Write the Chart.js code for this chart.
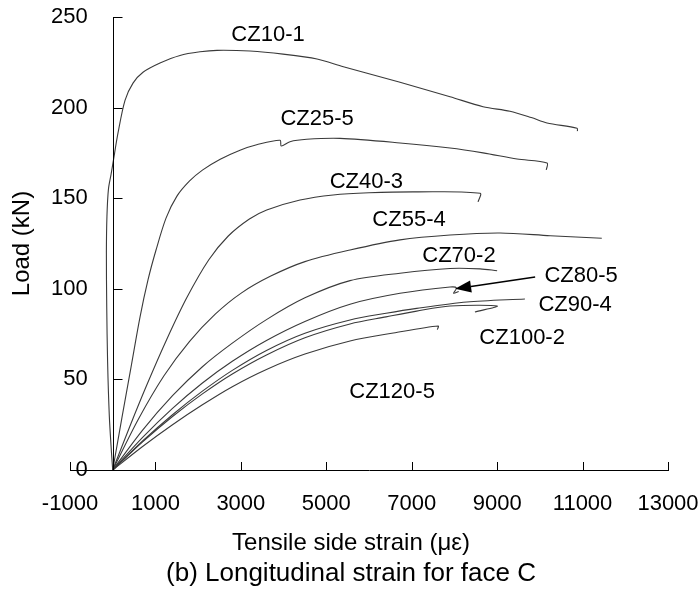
<!DOCTYPE html>
<html>
<head>
<meta charset="utf-8">
<script src="https://cdn.jsdelivr.net/npm/chart.js@4/dist/chart.umd.min.js"></script>
<style>
  html, body { margin: 0; padding: 0; background: #fff; }
</style>
</head>
<body>
<canvas id="myChart" width="700" height="594"></canvas>
<script>
// axis ticks
var xTicks = [-1000, 1000, 3000, 5000, 7000, 9000, 11000, 13000];
var yTicks = [0, 50, 100, 150, 200, 250];

// [strain (µε), load (kN)]
var cz10_1 = [[0,0],[-30,10],[-80,30],[-120,60],[-140,90],[-148,120],[-135,140],[-100,155],[-40,163],[10,170],[124,186],[288,204],[475,213.5],[709,219.5],[1107,224.6],[1575,228.8],[2044,230.8],[2442,231.6],[3214,231.2],[3987,229.5],[4783,226.8],[5400,222.5],[6726,214],[7897,206],[8670,200.5],[9300,198],[9800,194.5],[10168,191.5],[10870,188.6],[10880,187]];
var cz25_5 = [[0,0],[218,29.2],[429,56.8],[639,84.4],[826,104.9],[1014,121.4],[1248,139],[1500,151],[1800,159.5],[2100,165.5],[2517,171.5],[2980,176.5],[3370,179.5],[3917,182],[3945,178.8],[4150,181.2],[4540,182.5],[5320,183],[6726,180.5],[7897,177.7],[8670,175],[9466,171.6],[10168,169.4],[10150,165.6]];
var cz40_3 = [[0,0],[400,24],[800,47],[1264,72],[1733,95],[2250,116],[2700,129],[3200,138.5],[3605,143.5],[4385,149],[5160,151.8],[6000,153],[7117,153.5],[8600,152.7],[8553,148]];
var cz55_4 = [[0,0],[600,28],[1200,52],[1800,71],[2400,86],[3000,97.5],[3700,107],[4500,115],[5556,121.4],[6726,127],[7897,129.7],[9068,130.8],[10240,129.3],[11450,127.9]];
var cz70_2 = [[0,0],[700,22],[1400,41],[2100,57],[2800,70],[3600,83],[4500,95],[5556,104.5],[6726,108.6],[7897,111.2],[8600,111],[9000,110]];
var cz80_5 = [[0,0],[700,18],[1400,34],[2100,48],[2800,60],[3600,71.5],[4500,82],[5556,91.5],[6726,97.5],[7897,101],[8050,100.5],[7980,97.5],[8100,98.5]];
var cz90_4 = [[0,0],[700,16],[1400,30.5],[2100,43.5],[2800,55],[3600,66],[4500,75.5],[5556,82.8],[6400,86.5],[7117,89.2],[8290,92.7],[9650,94.4]];
var cz100_2 = [[0,0],[700,15.5],[1400,29.5],[2100,42],[2800,53],[3600,63.5],[4500,73],[5556,80.6],[6400,84.5],[7117,87.7],[7897,90.5],[9000,90.5],[8480,87.2]];
var cz120_5 = [[0,0],[700,13],[1400,25],[2100,36],[2800,46],[3600,55.5],[4500,64],[5556,71.2],[6570,75.6],[7620,79.5],[7600,77.5]];

var seriesNames = ['CZ10-1', 'CZ25-5', 'CZ40-3', 'CZ55-4', 'CZ70-2', 'CZ80-5', 'CZ90-4', 'CZ100-2', 'CZ120-5'];
var seriesData = [cz10_1, cz25_5, cz40_3, cz55_4, cz70_2, cz80_5, cz90_4, cz100_2, cz120_5];

// where each name is written, in data units
var nameAt = [[3636,240],[4785,193.7],[5937,159],[6937,138],[8106,118],[10965,107],[10825,91],[9585,72.8],[6540,43]];
// arrow for CZ80-5: tail, tip
var arrowFrom = [9890, 106.5];
var arrowTo = [8016, 100];

var xTitle = 'Tensile side strain (\u03bc\u03b5)';
var caption = '(b) Longitudinal strain for face C';

var FONT = '"Liberation Sans", Arial, sans-serif';

var axesAndNotes = {
  id: 'axesAndNotes',
  afterDatasetsDraw: function (chart) {
    var ctx = chart.ctx;
    var xs = chart.scales.x, ys = chart.scales.y;
    var x0 = Math.round(xs.getPixelForValue(0)) + 0.5;
    var yb = ys.getPixelForValue(0);
    ctx.save();
    ctx.strokeStyle = '#000';
    ctx.lineWidth = 1;
    ctx.beginPath();
    // vertical axis crossing at zero strain
    ctx.moveTo(x0, ys.getPixelForValue(yTicks[yTicks.length - 1]));
    ctx.lineTo(x0, yb);
    yTicks.forEach(function (v) {
      if (v === 0) return;
      var py = Math.round(ys.getPixelForValue(v)) + 0.5;
      ctx.moveTo(x0, py);
      ctx.lineTo(x0 + 9, py);
    });
    xTicks.forEach(function (v) {
      var px = Math.round(xs.getPixelForValue(v)) + 0.5;
      ctx.moveTo(px, yb);
      ctx.lineTo(px, yb - 8);
    });
    ctx.stroke();

    // series names
    ctx.fillStyle = '#000';
    ctx.font = '22px ' + FONT;
    ctx.textAlign = 'center';
    ctx.textBaseline = 'middle';
    seriesNames.forEach(function (name, i) {
      ctx.fillText(name, xs.getPixelForValue(nameAt[i][0]), ys.getPixelForValue(nameAt[i][1]));
    });

    // axis title and caption, centred on the figure
    ctx.font = '24px ' + FONT;
    ctx.fillText(xTitle, chart.width / 2 + 1, 543);
    ctx.font = '26px ' + FONT;
    ctx.fillText(caption, chart.width / 2 + 1, 574);

    // arrow
    var ax = xs.getPixelForValue(arrowFrom[0]), ay = ys.getPixelForValue(arrowFrom[1]);
    var bx = xs.getPixelForValue(arrowTo[0]), by = ys.getPixelForValue(arrowTo[1]);
    var ang = Math.atan2(by - ay, bx - ax);
    var len = 16, half = 6;
    var hx = bx - len * Math.cos(ang), hy = by - len * Math.sin(ang);
    ctx.lineWidth = 1.5;
    ctx.beginPath();
    ctx.moveTo(ax, ay);
    ctx.lineTo(hx, hy);
    ctx.stroke();
    ctx.beginPath();
    ctx.moveTo(bx, by);
    ctx.lineTo(hx + half * Math.sin(ang), hy - half * Math.cos(ang));
    ctx.lineTo(hx - half * Math.sin(ang), hy + half * Math.cos(ang));
    ctx.closePath();
    ctx.fill();
    ctx.restore();
  }
};

var ctx = document.getElementById('myChart').getContext('2d');
var myChart = new Chart(ctx, {
  type: 'scatter',
  data: {
    datasets: seriesNames.map(function (name, i) {
      return {
        label: name,
        data: seriesData[i].map(function (p) { return { x: p[0], y: p[1] }; }),
        showLine: true,
        borderColor: '#3a3a3a',
        borderWidth: 1.1,
        pointRadius: 0,
        tension: 0.3,
        fill: false
      };
    })
  },
  options: {
    responsive: false,
    animation: false,
    devicePixelRatio: 1,
    layout: { padding: { top: 17, right: 32, bottom: 0, left: 0 } },
    plugins: { legend: { display: false }, tooltip: { enabled: false } },
    scales: {
      x: {
        type: 'linear',
        min: -1000,
        max: 13000,
        afterBuildTicks: function (s) { s.ticks = xTicks.map(function (v) { return { value: v }; }); },
        afterFit: function (s) { s.height = 124; s.paddingLeft = 0; s.paddingRight = 0; },
        grid: { display: false, drawTicks: false },
        border: { display: true, color: '#000', width: 1 },
        ticks: {
          color: '#000', font: { size: 22, family: FONT }, padding: 21, maxRotation: 0, autoSkip: false,
          callback: function (v) { return String(v); }
        },
        title: { display: false }
      },
      y: {
        type: 'linear',
        min: 0,
        max: 250,
        afterBuildTicks: function (s) { s.ticks = yTicks.map(function (v) { return { value: v }; }); },
        afterFit: function (s) { s.width = 70; s.paddingTop = 0; s.paddingBottom = 0; },
        grid: { display: false, drawTicks: false },
        border: { display: false },
        ticks: {
          color: '#000', font: { size: 22, family: FONT }, mirror: true, crossAlign: 'far', padding: -19,
          callback: function (v) { return String(v); }
        },
        title: {
          display: true,
          text: 'Load (kN)',
          color: '#000',
          font: { size: 24, family: FONT },
          padding: { top: 8, bottom: 0 }
        }
      }
    }
  },
  plugins: [axesAndNotes]
});
</script>
</body>
</html>
